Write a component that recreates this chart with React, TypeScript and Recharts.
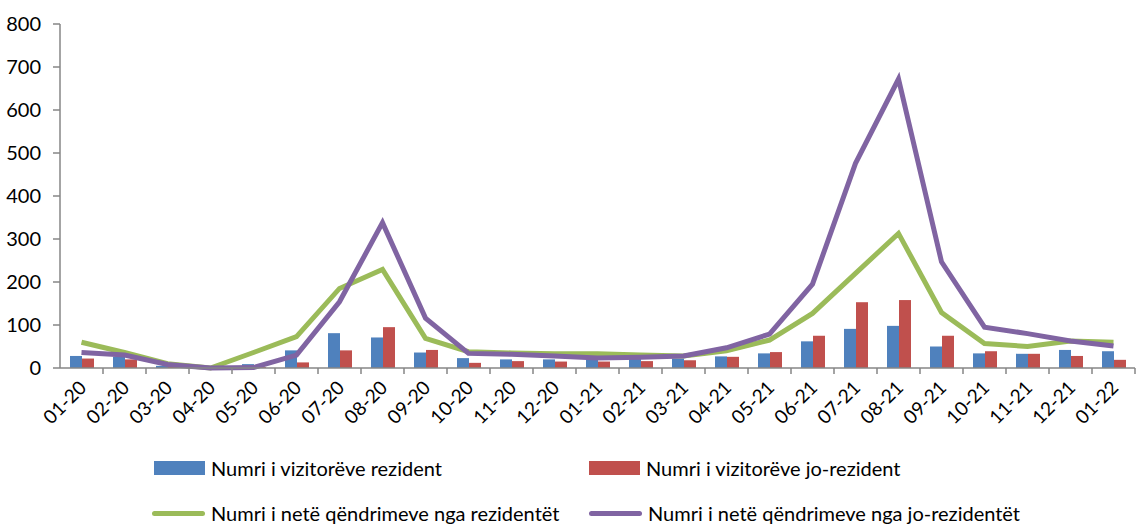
import {
  ComposedChart,
  Bar,
  Line,
  XAxis,
  YAxis,
  Legend,
} from 'recharts'

const months = [
  '01-20', '02-20', '03-20', '04-20', '05-20', '06-20', '07-20', '08-20', '09-20',
  '10-20', '11-20', '12-20', '01-21', '02-21', '03-21', '04-21', '05-21', '06-21',
  '07-21', '08-21', '09-21', '10-21', '11-21', '12-21', '01-22',
]

const visitorsResident = [
  28, 26, 5, 1, 9, 41, 81, 71, 36, 23, 20, 20, 20, 22, 22, 27, 34, 62, 91, 98, 50, 34, 33, 42, 39,
]
const visitorsNonResident = [
  22, 20, 3, 0, 2, 13, 41, 95, 42, 12, 16, 15, 15, 16, 18, 26, 37, 75, 153, 158, 75, 39, 33, 28, 19,
]
const nightsResident = [
  60, 36, 10, 0, 36, 73, 185, 229, 69, 38, 35, 33, 33, 30, 28, 40, 65, 127, 220, 313, 129, 57, 50, 63, 60,
]
const nightsNonResident = [
  36, 30, 8, 0, 1, 30, 154, 338, 116, 34, 32, 28, 23, 25, 28, 47, 79, 195, 476, 672, 247, 95, 80, 63, 51,
]

const yTicks = [0, 100, 200, 300, 400, 500, 600, 700, 800]

const FONT = 'Lato, "Open Sans", sans-serif'

const labels = {
  vr: 'Numri i vizitorëve rezident',
  vn: 'Numri i vizitorëve jo-rezident',
  nr: 'Numri i netë qëndrimeve nga rezidentët',
  nn: 'Numri i netë qëndrimeve nga jo-rezidentët',
}

const data = months.map((m, i) => ({
  month: m,
  vr: visitorsResident[i],
  vn: visitorsNonResident[i],
  nr: nightsResident[i],
  nn: nightsNonResident[i],
}))

const BAND = (1135 - 60) / months.length

function XTick(props: any) {
  const { x, y, payload } = props
  return (
    <g>
      <line x1={x + BAND / 2} y1={y - 8} x2={x + BAND / 2} y2={y - 2} stroke="#868686" strokeWidth={1.5} />
      <text
        x={x + 6}
        y={y + 13}
        transform={`rotate(-45 ${x + 6} ${y + 13})`}
        textAnchor="end"
        fontSize={19}
        fontFamily={FONT}
        fill="#000"
      >
        {payload.value}
      </text>
    </g>
  )
}

function LegendBox() {
  const item = (key: string, color: string, kind: 'bar' | 'line', left: number, top: number) => (
    <div key={key} style={{ position: 'absolute', left, top, display: 'flex', alignItems: 'center' }}>
      {kind === 'bar' ? (
        <div style={{ width: 51, height: 14, background: color }} />
      ) : (
        <div style={{ width: 53, height: 5, background: color, borderRadius: 3 }} />
      )}
      <span style={{ marginLeft: 6, fontSize: 20, fontFamily: FONT, color: '#000', whiteSpace: 'nowrap' }}>
        {labels[key as keyof typeof labels]}
      </span>
    </div>
  )
  return (
    <div style={{ position: 'relative', width: 1140, height: 100 }}>
      {item('vr', '#4F81BD', 'bar', 154, 31)}
      {item('vn', '#C0504D', 'bar', 589, 31)}
      {item('nr', '#9BBB59', 'line', 152, 76)}
      {item('nn', '#8064A2', 'line', 589, 76)}
    </div>
  )
}

export default function App() {
  return (
    <div style={{ position: 'absolute', left: 0, top: 0, width: 1140, height: 525, background: '#fff' }}>
      <ComposedChart
        width={1140}
        height={525}
        data={data}
        margin={{ top: 24, right: 5, left: 0, bottom: 0 }}
        barGap={0}
        barSize={12}
      >
        <XAxis
          dataKey="month"
          interval={0}
          height={57}
          tick={<XTick />}
          tickLine={false}
          axisLine={{ stroke: '#868686', strokeWidth: 1.5 }}
        />
        <YAxis
          width={60}
          domain={[0, 800]}
          ticks={yTicks}
          tick={{ fontSize: 20, fontFamily: FONT, fill: '#000' }}
          tickSize={7}
          tickMargin={12}
          tickLine={{ stroke: '#868686', strokeWidth: 1.5 }}
          axisLine={{ stroke: '#868686', strokeWidth: 1.5 }}
        />
        <Legend verticalAlign="bottom" height={100} content={<LegendBox />} wrapperStyle={{ left: 0, width: 1140 }} />
        <Bar dataKey="vr" name={labels.vr} fill="#4F81BD" isAnimationActive={false} />
        <Bar dataKey="vn" name={labels.vn} fill="#C0504D" isAnimationActive={false} />
        <Line
          type="linear"
          dataKey="nr"
          name={labels.nr}
          stroke="#9BBB59"
          strokeWidth={5}
          dot={false}
          activeDot={false}
          isAnimationActive={false}
        />
        <Line
          type="linear"
          dataKey="nn"
          name={labels.nn}
          stroke="#8064A2"
          strokeWidth={5}
          dot={false}
          activeDot={false}
          isAnimationActive={false}
        />
      </ComposedChart>
    </div>
  )
}
